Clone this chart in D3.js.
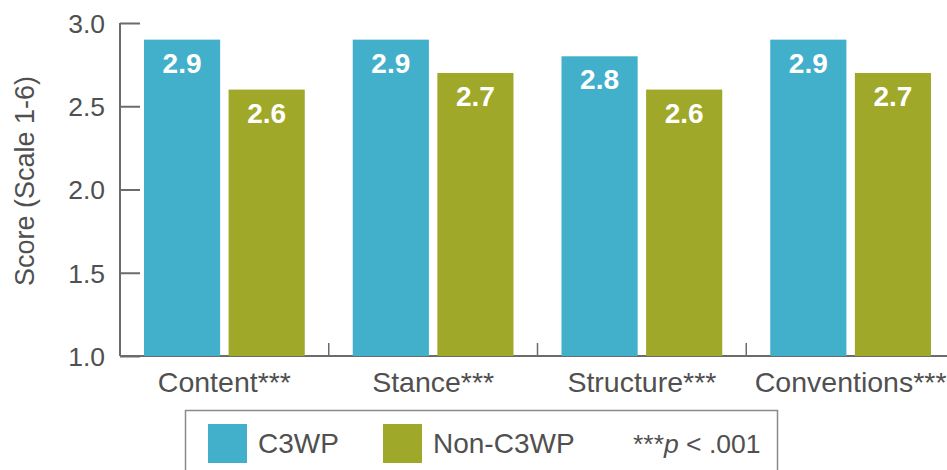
<!DOCTYPE html>
<html>
<head>
<meta charset="utf-8">
<script src="https://cdn.jsdelivr.net/npm/d3@7"></script>
<style>
  body { margin: 0; background: #fff; }
  svg { display: block; font-family: "Liberation Sans", Arial, sans-serif; }
</style>
</head>
<body>
<svg id="chart" width="947" height="470"></svg>
<script>
var categories = ["Content***", "Stance***", "Structure***", "Conventions***"];
var seriesNames = ["C3WP", "Non-C3WP"];
var c3wpValues = [2.9, 2.9, 2.8, 2.9];
var nonC3wpValues = [2.6, 2.7, 2.6, 2.7];
var yTicks = [1.0, 1.5, 2.0, 2.5, 3.0];
var colors = ["#42afcb", "#9fa828"];

var svg = d3.select("#chart");
var textColor = "#505050", axisColor = "#6b6b6b";

// band for each category, inner band for the two series
var x = d3.scaleBand().domain(categories).range([120, 955]).paddingInner(0).paddingOuter(0);
var xInner = d3.scaleBand().domain(seriesNames).range([24, x.bandwidth() - 24]).paddingInner(0.1);
var y = d3.scaleLinear().domain([1.0, 3.0]).range([356, 23]);

var rows = categories.map(function (c, i) {
    return { cat: c, vals: [c3wpValues[i], nonC3wpValues[i]] };
});

// y axis
var yAxis = svg.append("g").attr("transform", "translate(120,0)")
    .call(d3.axisRight(y).tickValues(yTicks).tickSize(20).tickFormat(d3.format(".1f")));
yAxis.select(".domain").attr("stroke", axisColor).attr("stroke-width", 2).attr("d", "M0,23V356");
yAxis.selectAll(".tick line").attr("stroke", axisColor).attr("stroke-width", 2);
yAxis.selectAll(".tick text").attr("x", -15).attr("text-anchor", "end")
    .attr("font-size", "26.5px").attr("fill", textColor).attr("dy", "0.35em");

// x axis
var xAxis = svg.append("g").attr("transform", "translate(0,356)")
    .call(d3.axisBottom(x).tickSize(0));
xAxis.select(".domain").attr("stroke", axisColor).attr("stroke-width", 2).attr("d", "M120,0H947");
xAxis.selectAll(".tick text").attr("y", 36).attr("dy", 0)
    .attr("font-size", "28.5px").attr("fill", textColor);
// separators between categories
svg.append("g").selectAll("line")
    .data(categories.slice(1))
    .enter().append("line")
    .attr("x1", function (d) { return x(d); })
    .attr("x2", function (d) { return x(d); })
    .attr("y1", 343).attr("y2", 356)
    .attr("stroke", axisColor).attr("stroke-width", 1.5);

// bars
var groups = svg.append("g").selectAll("g")
    .data(rows).enter().append("g")
    .attr("transform", function (d) { return "translate(" + x(d.cat) + ",0)"; });

groups.selectAll("rect")
    .data(function (d) { return d.vals.map(function (v, i) { return { s: seriesNames[i], v: v, i: i }; }); })
    .enter().append("rect")
    .attr("x", function (d) { return xInner(d.s); })
    .attr("y", function (d) { return y(d.v); })
    .attr("width", xInner.bandwidth())
    .attr("height", function (d) { return y(1.0) - y(d.v); })
    .attr("fill", function (d) { return colors[d.i]; });

groups.selectAll("text")
    .data(function (d) { return d.vals.map(function (v, i) { return { s: seriesNames[i], v: v, i: i }; }); })
    .enter().append("text")
    .attr("x", function (d) { return xInner(d.s) + xInner.bandwidth() / 2; })
    .attr("y", function (d) { return y(d.v) + 33; })
    .attr("text-anchor", "middle")
    .attr("font-size", "28px")
    .attr("font-weight", "bold")
    .attr("fill", "#fff")
    .text(function (d) { return d3.format(".1f")(d.v); });

// y title
svg.append("text")
    .attr("transform", "translate(34,181) rotate(-90)")
    .attr("text-anchor", "middle")
    .attr("font-size", "27px")
    .attr("fill", textColor)
    .text("Score (Scale 1-6)");

// legend
var legend = svg.append("g");
legend.append("rect")
    .attr("x", 185.5).attr("y", 410.5).attr("width", 592).attr("height", 80)
    .attr("fill", "none").attr("stroke", "#8a8a8a").attr("stroke-width", 1.5);

var legendX = [208, 383];
var items = legend.selectAll("g.item").data(seriesNames).enter().append("g")
    .attr("class", "item")
    .attr("transform", function (d, i) { return "translate(" + legendX[i] + ",424)"; });
items.append("rect").attr("width", 39).attr("height", 39)
    .attr("fill", function (d, i) { return colors[i]; });
items.append("text").attr("x", 50).attr("y", 29)
    .attr("font-size", "28px").attr("fill", textColor)
    .text(function (d) { return d; });

var note = legend.append("text").attr("x", 633).attr("y", 453)
    .attr("font-size", "26.5px").attr("fill", textColor);
note.append("tspan").text("***");
note.append("tspan").attr("font-style", "italic").text("p");
note.append("tspan").text(" < .001");
</script>
</body>
</html>
